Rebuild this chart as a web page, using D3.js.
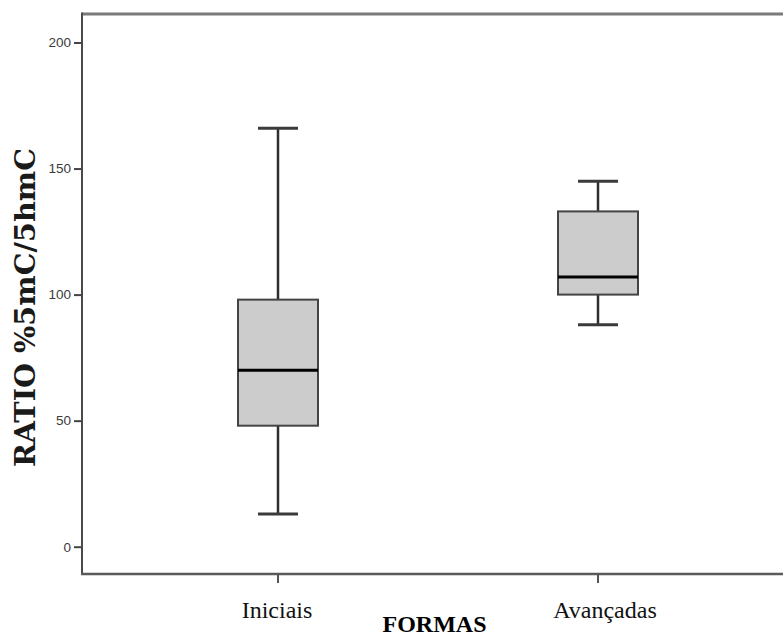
<!DOCTYPE html>
<html>
<head>
<meta charset="utf-8">
<script src="https://cdn.jsdelivr.net/npm/d3@7"></script>
<style>
  html, body { margin: 0; padding: 0; background: #fff; }
  svg { display: block; }
</style>
</head>
<body>
<svg id="chart" width="783" height="637"></svg>
<script>
// Group labels and five-number summaries per group
const categories = ["Iniciais", "Avançadas"];
const minVals    = [13, 88];
const q1Vals     = [48, 100];
const medianVals = [70, 107];
const q3Vals     = [98, 133];
const maxVals    = [166, 145];
const yTicks     = [0, 50, 100, 150, 200];

const data = categories.map((c, i) => ({
  cat: c, min: minVals[i], q1: q1Vals[i], med: medianVals[i], q3: q3Vals[i], max: maxVals[i]
}));

const svg = d3.select("#chart");
const W = 783, H = 637;
const frame = { left: 82, top: 14, bottom: 574 };

const x = d3.scaleBand().domain(categories).range([118, 758]).padding(0);
const y = d3.scaleLinear().domain([0, 200]).range([546.7, 42.5]);

const boxW = x.bandwidth() * 0.25;
const capW = boxW * 0.5;
const cx = d => x(d.cat) + x.bandwidth() / 2;

// Plot frame (top and left/bottom edges; the right edge runs off the page)
svg.append("line")
  .attr("x1", frame.left).attr("x2", W + 5)
  .attr("y1", frame.top).attr("y2", frame.top)
  .attr("stroke", "#7a7a7a").attr("stroke-width", 3);
svg.append("line")
  .attr("x1", frame.left).attr("x2", frame.left)
  .attr("y1", frame.top - 1.5).attr("y2", frame.bottom + 1)
  .attr("stroke", "#4a4a4a").attr("stroke-width", 2);
svg.append("line")
  .attr("x1", frame.left - 1).attr("x2", W + 5)
  .attr("y1", frame.bottom).attr("y2", frame.bottom)
  .attr("stroke", "#5a5a5a").attr("stroke-width", 2.5);

// Y axis ticks and labels
const yAxis = d3.axisLeft(y).tickValues(yTicks).tickSize(8).tickPadding(3);
const gy = svg.append("g").attr("transform", `translate(${frame.left},0)`).call(yAxis);
gy.select(".domain").remove();
gy.selectAll(".tick line").attr("stroke", "#444").attr("stroke-width", 2);
gy.selectAll(".tick text")
  .attr("fill", "#3a3a3a")
  .style("font-family", "'Liberation Sans', Arial, sans-serif")
  .style("font-size", "13.5px");

// X axis ticks and category labels
const xAxis = d3.axisBottom(x).tickSize(9).tickPadding(18);
const gx = svg.append("g").attr("transform", `translate(0,${frame.bottom})`).call(xAxis);
gx.select(".domain").remove();
gx.selectAll(".tick line").attr("stroke", "#555").attr("stroke-width", 2);
gx.selectAll(".tick text")
  .attr("fill", "#111")
  .attr("dx", (d, i) => i === 1 ? 7 : -1)
  .style("font-family", "'Liberation Serif', 'Times New Roman', serif")
  .style("font-size", "24px");

// Boxes
const g = svg.append("g");
const grp = g.selectAll("g.box").data(data).join("g").attr("class", "box");

// whisker stems
grp.append("line")
  .attr("x1", cx).attr("x2", cx)
  .attr("y1", d => y(d.max)).attr("y2", d => y(d.q3))
  .attr("stroke", "#2e2e2e").attr("stroke-width", 2.5);
grp.append("line")
  .attr("x1", cx).attr("x2", cx)
  .attr("y1", d => y(d.q1)).attr("y2", d => y(d.min))
  .attr("stroke", "#2e2e2e").attr("stroke-width", 2.5);
// whisker caps
grp.append("line")
  .attr("x1", d => cx(d) - capW / 2).attr("x2", d => cx(d) + capW / 2)
  .attr("y1", d => y(d.max)).attr("y2", d => y(d.max))
  .attr("stroke", "#3a3a3a").attr("stroke-width", 3);
grp.append("line")
  .attr("x1", d => cx(d) - capW / 2).attr("x2", d => cx(d) + capW / 2)
  .attr("y1", d => y(d.min)).attr("y2", d => y(d.min))
  .attr("stroke", "#3a3a3a").attr("stroke-width", 3);
// interquartile box
grp.append("rect")
  .attr("x", d => cx(d) - boxW / 2)
  .attr("width", boxW)
  .attr("y", d => y(d.q3))
  .attr("height", d => y(d.q1) - y(d.q3))
  .attr("fill", "#cccccc")
  .attr("stroke", "#444").attr("stroke-width", 2);
// median
grp.append("line")
  .attr("x1", d => cx(d) - boxW / 2).attr("x2", d => cx(d) + boxW / 2)
  .attr("y1", d => y(d.med)).attr("y2", d => y(d.med))
  .attr("stroke", "#000").attr("stroke-width", 3);

// Axis titles
svg.append("text")
  .attr("transform", "translate(35,307.5) rotate(-90)")
  .attr("text-anchor", "middle")
  .attr("textLength", 319)
  .attr("lengthAdjust", "spacingAndGlyphs")
  .attr("fill", "#1a1a1a")
  .style("font-family", "'DejaVu Serif Condensed', 'DejaVu Serif', serif")
  .style("font-weight", "bold")
  .style("font-size", "28px")
  .text("RATIO %5mC/5hmC");

svg.append("text")
  .attr("x", 434.5).attr("y", 632)
  .attr("text-anchor", "middle")
  .attr("fill", "#000")
  .style("font-family", "'Liberation Serif', 'Times New Roman', serif")
  .style("font-weight", "bold")
  .style("font-size", "24px")
  .text("FORMAS");
</script>
</body>
</html>
